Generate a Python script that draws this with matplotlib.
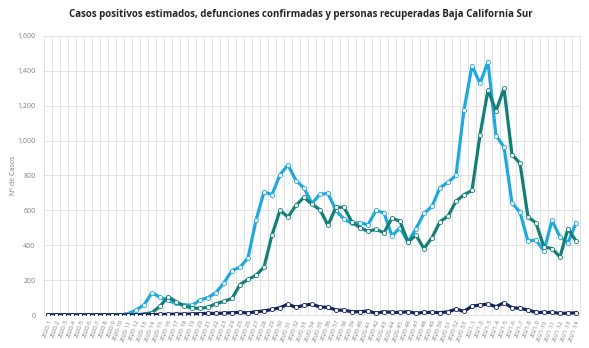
import matplotlib.pyplot as plt
import numpy as np
from matplotlib.ticker import FuncFormatter, MultipleLocator

semanas = [f"2020-{k}" for k in range(1, 54)] + [f"2021-{k}" for k in range(1, 15)]

positivos = [0, 0, 0, 0, 0, 0, 0, 0, 0, 0,
             8, 28, 58, 127, 102, 84, 67, 59, 55, 86,
             100, 128, 185, 255, 274, 327, 543, 705, 691, 804,
             861, 771, 728, 640, 693, 697, 600, 550, 525, 530,
             517, 600, 585, 454, 500, 419, 495, 583, 623, 730,
             762, 800, 1175, 1430, 1328, 1453, 1029, 964, 642, 590,
             423, 430, 368, 543, 448, 413, 528]

recuperados = [0, 0, 0, 0, 0, 0, 0, 0, 0, 0,
               0, 0, 5, 14, 50, 105, 76, 52, 40, 38,
               45, 65, 78, 95, 174, 204, 228, 274, 459, 600,
               562, 629, 675, 635, 604, 514, 619, 617, 533, 501,
               480, 491, 472, 556, 537, 419, 457, 381, 444, 535,
               567, 652, 690, 714, 1032, 1290, 1171, 1299, 920, 870,
               562, 528, 390, 381, 333, 495, 425]

defunciones = [0, 0, 0, 0, 0, 0, 0, 0, 0, 0,
               0, 1, 2, 2, 3, 4, 5, 5, 6, 8,
               9, 9, 11, 13, 15, 12, 19, 23, 32, 42,
               62, 44, 56, 62, 46, 44, 29, 27, 19, 19,
               23, 10, 19, 15, 15, 19, 10, 15, 15, 14,
               18, 34, 21, 51, 57, 63, 48, 70, 42, 38,
               29, 15, 15, 15, 10, 10, 13]

plt.rcParams["font.family"] = ["Open Sans", "DejaVu Sans"]

fig = plt.figure(figsize=(5.89, 3.48), dpi=100)
ax = fig.add_axes([0.0747, 0.0948, 0.91, 0.8018])

x = np.arange(len(semanas))
series = [
    (positivos, "#1fa9dc"),
    (recuperados, "#137f79"),
    (defunciones, "#13245e"),
]
for valores, color in series:
    ax.plot(x, valores, color=color, lw=2.3, marker="o", markersize=3.0,
            markerfacecolor="white", markeredgecolor=color, markeredgewidth=0.6,
            solid_joinstyle="round", zorder=3)

ax.set_xlim(-0.5, len(semanas) - 0.5)
ax.set_ylim(0, 1600)
ax.yaxis.set_major_locator(MultipleLocator(200))
ax.yaxis.set_major_formatter(FuncFormatter(lambda v, p: f"{int(v):,}"))

ax.set_xticks(x)
ax.set_xticklabels(semanas, rotation=70, ha="right", va="top",
                   rotation_mode="anchor", fontsize=4.3, color="#7f7f7f")
ax.set_xticks(x[:-1] + 0.5, minor=True)
ax.grid(axis="x", which="minor", color="#e3e3e3", lw=0.7)
ax.grid(axis="y", which="major", color="#e3e3e3", lw=0.7)
ax.tick_params(axis="both", which="both", length=0)
ax.tick_params(axis="y", labelsize=5, labelcolor="#7f7f7f", pad=6)
ax.tick_params(axis="x", pad=3)
for s in ax.spines.values():
    s.set_color("#e3e3e3")
    s.set_linewidth(0.7)
ax.set_axisbelow(True)

ax.set_ylabel("Nº de Casos", fontsize=5, color="#7f7f7f", labelpad=0)
fig.suptitle("Casos positivos estimados, defunciones confirmadas y personas recuperadas Baja California Sur",
             x=0.51, y=0.975, fontsize=7, fontweight="bold", color="#262626")

fig.savefig("out.png", dpi=100, facecolor="white")
